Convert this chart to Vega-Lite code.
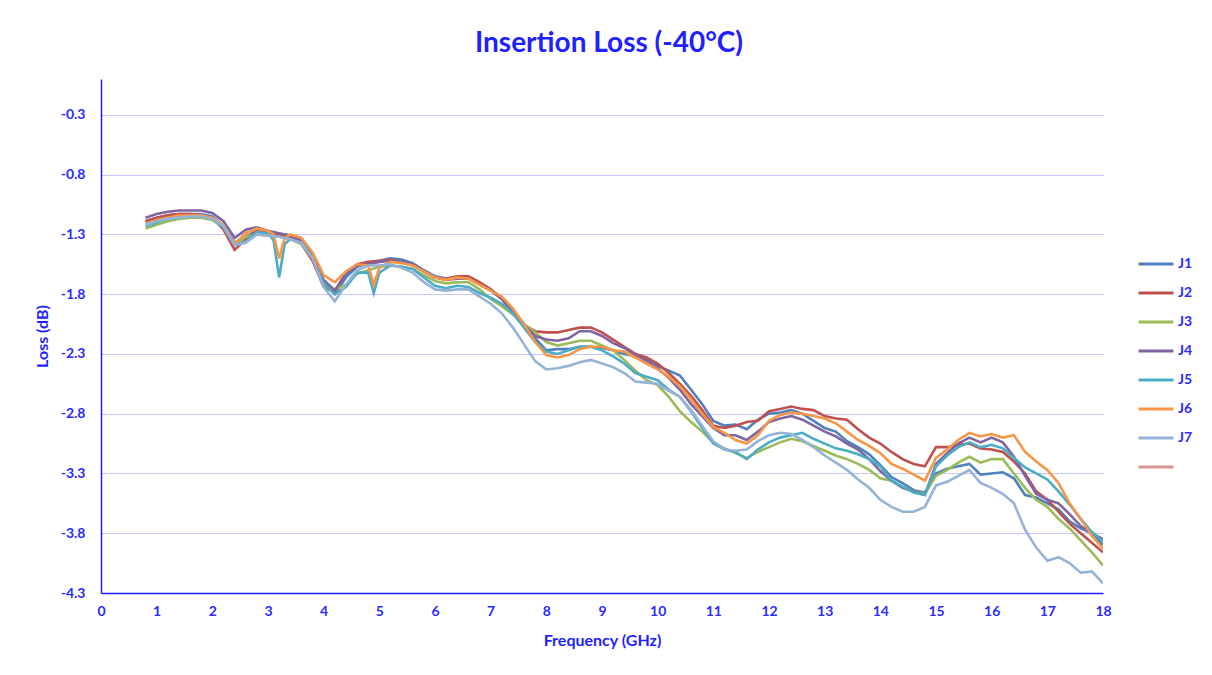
{
"$schema":"https://vega.github.io/schema/vega-lite/v6.json",
"width":1002,"height":514,
"autosize":"none",
"padding":{"left":101,"top":79,"right":109,"bottom":82},
"background":"white",
"title":{"text":"Insertion Loss (-40°C)","color":"#1f1fff","fontSize":28,"fontWeight":"bold","font":"Lato","anchor":"middle","offset":21,"dx":7},
"data":{"values":[
{"f":0.8,"s":"J1","v":-1.19},{"f":1.0,"s":"J1","v":-1.16},{"f":1.2,"s":"J1","v":-1.14},{"f":1.4,"s":"J1","v":-1.13},{"f":1.6,"s":"J1","v":-1.13},{"f":1.8,"s":"J1","v":-1.13},{"f":2.0,"s":"J1","v":-1.15},{"f":2.2,"s":"J1","v":-1.23},{"f":2.4,"s":"J1","v":-1.37},{"f":2.6,"s":"J1","v":-1.32},{"f":2.8,"s":"J1","v":-1.27},{"f":3.0,"s":"J1","v":-1.28},{"f":3.2,"s":"J1","v":-1.30},{"f":3.4,"s":"J1","v":-1.31},{"f":3.6,"s":"J1","v":-1.35},{"f":3.8,"s":"J1","v":-1.50},{"f":4.0,"s":"J1","v":-1.70},{"f":4.2,"s":"J1","v":-1.80},{"f":4.4,"s":"J1","v":-1.66},{"f":4.6,"s":"J1","v":-1.57},{"f":4.8,"s":"J1","v":-1.54},{"f":5.0,"s":"J1","v":-1.52},{"f":5.2,"s":"J1","v":-1.50},{"f":5.4,"s":"J1","v":-1.51},{"f":5.6,"s":"J1","v":-1.54},{"f":5.8,"s":"J1","v":-1.60},{"f":6.0,"s":"J1","v":-1.65},{"f":6.2,"s":"J1","v":-1.67},{"f":6.4,"s":"J1","v":-1.66},{"f":6.6,"s":"J1","v":-1.66},{"f":6.8,"s":"J1","v":-1.71},{"f":7.0,"s":"J1","v":-1.76},{"f":7.2,"s":"J1","v":-1.83},{"f":7.4,"s":"J1","v":-1.93},{"f":7.6,"s":"J1","v":-2.05},{"f":7.8,"s":"J1","v":-2.17},{"f":8.0,"s":"J1","v":-2.27},{"f":8.2,"s":"J1","v":-2.26},{"f":8.4,"s":"J1","v":-2.26},{"f":8.6,"s":"J1","v":-2.24},{"f":8.8,"s":"J1","v":-2.24},{"f":9.0,"s":"J1","v":-2.25},{"f":9.2,"s":"J1","v":-2.27},{"f":9.4,"s":"J1","v":-2.30},{"f":9.6,"s":"J1","v":-2.32},{"f":9.8,"s":"J1","v":-2.34},{"f":10.0,"s":"J1","v":-2.40},{"f":10.2,"s":"J1","v":-2.44},{"f":10.4,"s":"J1","v":-2.48},{"f":10.6,"s":"J1","v":-2.60},{"f":10.8,"s":"J1","v":-2.72},{"f":11.0,"s":"J1","v":-2.86},{"f":11.2,"s":"J1","v":-2.90},{"f":11.4,"s":"J1","v":-2.89},{"f":11.6,"s":"J1","v":-2.93},{"f":11.8,"s":"J1","v":-2.85},{"f":12.0,"s":"J1","v":-2.80},{"f":12.2,"s":"J1","v":-2.79},{"f":12.4,"s":"J1","v":-2.77},{"f":12.6,"s":"J1","v":-2.80},{"f":12.8,"s":"J1","v":-2.86},{"f":13.0,"s":"J1","v":-2.92},{"f":13.2,"s":"J1","v":-2.95},{"f":13.4,"s":"J1","v":-3.03},{"f":13.6,"s":"J1","v":-3.08},{"f":13.8,"s":"J1","v":-3.14},{"f":14.0,"s":"J1","v":-3.23},{"f":14.2,"s":"J1","v":-3.33},{"f":14.4,"s":"J1","v":-3.38},{"f":14.6,"s":"J1","v":-3.44},{"f":14.8,"s":"J1","v":-3.46},{"f":15.0,"s":"J1","v":-3.30},{"f":15.2,"s":"J1","v":-3.26},{"f":15.4,"s":"J1","v":-3.24},{"f":15.6,"s":"J1","v":-3.22},{"f":15.8,"s":"J1","v":-3.31},{"f":16.0,"s":"J1","v":-3.30},{"f":16.2,"s":"J1","v":-3.29},{"f":16.4,"s":"J1","v":-3.34},{"f":16.6,"s":"J1","v":-3.48},{"f":16.8,"s":"J1","v":-3.50},{"f":17.0,"s":"J1","v":-3.55},{"f":17.2,"s":"J1","v":-3.60},{"f":17.4,"s":"J1","v":-3.70},{"f":17.6,"s":"J1","v":-3.76},{"f":17.8,"s":"J1","v":-3.80},{"f":18.0,"s":"J1","v":-3.90},

{"f":0.8,"s":"J2","v":-1.19},{"f":1.0,"s":"J2","v":-1.16},{"f":1.2,"s":"J2","v":-1.14},{"f":1.4,"s":"J2","v":-1.13},{"f":1.6,"s":"J2","v":-1.13},{"f":1.8,"s":"J2","v":-1.14},{"f":2.0,"s":"J2","v":-1.16},{"f":2.2,"s":"J2","v":-1.26},{"f":2.4,"s":"J2","v":-1.43},{"f":2.6,"s":"J2","v":-1.34},{"f":2.8,"s":"J2","v":-1.27},{"f":3.0,"s":"J2","v":-1.29},{"f":3.2,"s":"J2","v":-1.31},{"f":3.4,"s":"J2","v":-1.32},{"f":3.6,"s":"J2","v":-1.38},{"f":3.8,"s":"J2","v":-1.52},{"f":4.0,"s":"J2","v":-1.74},{"f":4.2,"s":"J2","v":-1.78},{"f":4.4,"s":"J2","v":-1.62},{"f":4.6,"s":"J2","v":-1.55},{"f":4.8,"s":"J2","v":-1.53},{"f":5.0,"s":"J2","v":-1.52},{"f":5.2,"s":"J2","v":-1.51},{"f":5.4,"s":"J2","v":-1.53},{"f":5.6,"s":"J2","v":-1.56},{"f":5.8,"s":"J2","v":-1.61},{"f":6.0,"s":"J2","v":-1.66},{"f":6.2,"s":"J2","v":-1.67},{"f":6.4,"s":"J2","v":-1.65},{"f":6.6,"s":"J2","v":-1.65},{"f":6.8,"s":"J2","v":-1.70},{"f":7.0,"s":"J2","v":-1.76},{"f":7.2,"s":"J2","v":-1.84},{"f":7.4,"s":"J2","v":-1.96},{"f":7.6,"s":"J2","v":-2.06},{"f":7.8,"s":"J2","v":-2.11},{"f":8.0,"s":"J2","v":-2.12},{"f":8.2,"s":"J2","v":-2.12},{"f":8.4,"s":"J2","v":-2.10},{"f":8.6,"s":"J2","v":-2.08},{"f":8.8,"s":"J2","v":-2.08},{"f":9.0,"s":"J2","v":-2.12},{"f":9.2,"s":"J2","v":-2.18},{"f":9.4,"s":"J2","v":-2.24},{"f":9.6,"s":"J2","v":-2.30},{"f":9.8,"s":"J2","v":-2.33},{"f":10.0,"s":"J2","v":-2.38},{"f":10.2,"s":"J2","v":-2.46},{"f":10.4,"s":"J2","v":-2.55},{"f":10.6,"s":"J2","v":-2.65},{"f":10.8,"s":"J2","v":-2.77},{"f":11.0,"s":"J2","v":-2.90},{"f":11.2,"s":"J2","v":-2.92},{"f":11.4,"s":"J2","v":-2.90},{"f":11.6,"s":"J2","v":-2.87},{"f":11.8,"s":"J2","v":-2.86},{"f":12.0,"s":"J2","v":-2.78},{"f":12.2,"s":"J2","v":-2.76},{"f":12.4,"s":"J2","v":-2.74},{"f":12.6,"s":"J2","v":-2.76},{"f":12.8,"s":"J2","v":-2.77},{"f":13.0,"s":"J2","v":-2.82},{"f":13.2,"s":"J2","v":-2.84},{"f":13.4,"s":"J2","v":-2.85},{"f":13.6,"s":"J2","v":-2.93},{"f":13.8,"s":"J2","v":-3.00},{"f":14.0,"s":"J2","v":-3.05},{"f":14.2,"s":"J2","v":-3.12},{"f":14.4,"s":"J2","v":-3.18},{"f":14.6,"s":"J2","v":-3.22},{"f":14.8,"s":"J2","v":-3.24},{"f":15.0,"s":"J2","v":-3.08},{"f":15.2,"s":"J2","v":-3.08},{"f":15.4,"s":"J2","v":-3.06},{"f":15.6,"s":"J2","v":-3.05},{"f":15.8,"s":"J2","v":-3.09},{"f":16.0,"s":"J2","v":-3.10},{"f":16.2,"s":"J2","v":-3.12},{"f":16.4,"s":"J2","v":-3.20},{"f":16.6,"s":"J2","v":-3.30},{"f":16.8,"s":"J2","v":-3.45},{"f":17.0,"s":"J2","v":-3.52},{"f":17.2,"s":"J2","v":-3.62},{"f":17.4,"s":"J2","v":-3.72},{"f":17.6,"s":"J2","v":-3.80},{"f":17.8,"s":"J2","v":-3.88},{"f":18.0,"s":"J2","v":-3.96},

{"f":0.8,"s":"J3","v":-1.25},{"f":1.0,"s":"J3","v":-1.22},{"f":1.2,"s":"J3","v":-1.19},{"f":1.4,"s":"J3","v":-1.17},{"f":1.6,"s":"J3","v":-1.16},{"f":1.8,"s":"J3","v":-1.16},{"f":2.0,"s":"J3","v":-1.18},{"f":2.2,"s":"J3","v":-1.24},{"f":2.4,"s":"J3","v":-1.38},{"f":2.6,"s":"J3","v":-1.32},{"f":2.8,"s":"J3","v":-1.30},{"f":3.0,"s":"J3","v":-1.31},{"f":3.2,"s":"J3","v":-1.32},{"f":3.4,"s":"J3","v":-1.34},{"f":3.6,"s":"J3","v":-1.38},{"f":3.8,"s":"J3","v":-1.50},{"f":4.0,"s":"J3","v":-1.70},{"f":4.2,"s":"J3","v":-1.76},{"f":4.4,"s":"J3","v":-1.72},{"f":4.6,"s":"J3","v":-1.63},{"f":4.8,"s":"J3","v":-1.60},{"f":5.0,"s":"J3","v":-1.57},{"f":5.2,"s":"J3","v":-1.56},{"f":5.4,"s":"J3","v":-1.57},{"f":5.6,"s":"J3","v":-1.59},{"f":5.8,"s":"J3","v":-1.64},{"f":6.0,"s":"J3","v":-1.69},{"f":6.2,"s":"J3","v":-1.71},{"f":6.4,"s":"J3","v":-1.70},{"f":6.6,"s":"J3","v":-1.70},{"f":6.8,"s":"J3","v":-1.76},{"f":7.0,"s":"J3","v":-1.84},{"f":7.2,"s":"J3","v":-1.90},{"f":7.4,"s":"J3","v":-1.97},{"f":7.6,"s":"J3","v":-2.05},{"f":7.8,"s":"J3","v":-2.12},{"f":8.0,"s":"J3","v":-2.20},{"f":8.2,"s":"J3","v":-2.23},{"f":8.4,"s":"J3","v":-2.21},{"f":8.6,"s":"J3","v":-2.19},{"f":8.8,"s":"J3","v":-2.19},{"f":9.0,"s":"J3","v":-2.23},{"f":9.2,"s":"J3","v":-2.27},{"f":9.4,"s":"J3","v":-2.35},{"f":9.6,"s":"J3","v":-2.44},{"f":9.8,"s":"J3","v":-2.52},{"f":10.0,"s":"J3","v":-2.56},{"f":10.2,"s":"J3","v":-2.66},{"f":10.4,"s":"J3","v":-2.78},{"f":10.6,"s":"J3","v":-2.87},{"f":10.8,"s":"J3","v":-2.95},{"f":11.0,"s":"J3","v":-3.04},{"f":11.2,"s":"J3","v":-3.09},{"f":11.4,"s":"J3","v":-3.13},{"f":11.6,"s":"J3","v":-3.17},{"f":11.8,"s":"J3","v":-3.12},{"f":12.0,"s":"J3","v":-3.08},{"f":12.2,"s":"J3","v":-3.04},{"f":12.4,"s":"J3","v":-3.01},{"f":12.6,"s":"J3","v":-3.03},{"f":12.8,"s":"J3","v":-3.07},{"f":13.0,"s":"J3","v":-3.11},{"f":13.2,"s":"J3","v":-3.15},{"f":13.4,"s":"J3","v":-3.18},{"f":13.6,"s":"J3","v":-3.22},{"f":13.8,"s":"J3","v":-3.27},{"f":14.0,"s":"J3","v":-3.34},{"f":14.2,"s":"J3","v":-3.36},{"f":14.4,"s":"J3","v":-3.41},{"f":14.6,"s":"J3","v":-3.45},{"f":14.8,"s":"J3","v":-3.47},{"f":15.0,"s":"J3","v":-3.32},{"f":15.2,"s":"J3","v":-3.27},{"f":15.4,"s":"J3","v":-3.21},{"f":15.6,"s":"J3","v":-3.16},{"f":15.8,"s":"J3","v":-3.21},{"f":16.0,"s":"J3","v":-3.18},{"f":16.2,"s":"J3","v":-3.18},{"f":16.4,"s":"J3","v":-3.30},{"f":16.6,"s":"J3","v":-3.42},{"f":16.8,"s":"J3","v":-3.52},{"f":17.0,"s":"J3","v":-3.58},{"f":17.2,"s":"J3","v":-3.68},{"f":17.4,"s":"J3","v":-3.76},{"f":17.6,"s":"J3","v":-3.86},{"f":17.8,"s":"J3","v":-3.96},{"f":18.0,"s":"J3","v":-4.07},

{"f":0.8,"s":"J4","v":-1.16},{"f":1.0,"s":"J4","v":-1.13},{"f":1.2,"s":"J4","v":-1.11},{"f":1.4,"s":"J4","v":-1.10},{"f":1.6,"s":"J4","v":-1.10},{"f":1.8,"s":"J4","v":-1.10},{"f":2.0,"s":"J4","v":-1.12},{"f":2.2,"s":"J4","v":-1.19},{"f":2.4,"s":"J4","v":-1.33},{"f":2.6,"s":"J4","v":-1.26},{"f":2.8,"s":"J4","v":-1.24},{"f":3.0,"s":"J4","v":-1.27},{"f":3.2,"s":"J4","v":-1.29},{"f":3.4,"s":"J4","v":-1.31},{"f":3.6,"s":"J4","v":-1.36},{"f":3.8,"s":"J4","v":-1.48},{"f":4.0,"s":"J4","v":-1.68},{"f":4.2,"s":"J4","v":-1.77},{"f":4.4,"s":"J4","v":-1.63},{"f":4.6,"s":"J4","v":-1.56},{"f":4.8,"s":"J4","v":-1.55},{"f":5.0,"s":"J4","v":-1.53},{"f":5.2,"s":"J4","v":-1.52},{"f":5.4,"s":"J4","v":-1.53},{"f":5.6,"s":"J4","v":-1.55},{"f":5.8,"s":"J4","v":-1.61},{"f":6.0,"s":"J4","v":-1.66},{"f":6.2,"s":"J4","v":-1.68},{"f":6.4,"s":"J4","v":-1.67},{"f":6.6,"s":"J4","v":-1.67},{"f":6.8,"s":"J4","v":-1.72},{"f":7.0,"s":"J4","v":-1.77},{"f":7.2,"s":"J4","v":-1.84},{"f":7.4,"s":"J4","v":-1.94},{"f":7.6,"s":"J4","v":-2.06},{"f":7.8,"s":"J4","v":-2.15},{"f":8.0,"s":"J4","v":-2.18},{"f":8.2,"s":"J4","v":-2.19},{"f":8.4,"s":"J4","v":-2.17},{"f":8.6,"s":"J4","v":-2.11},{"f":8.8,"s":"J4","v":-2.11},{"f":9.0,"s":"J4","v":-2.15},{"f":9.2,"s":"J4","v":-2.21},{"f":9.4,"s":"J4","v":-2.25},{"f":9.6,"s":"J4","v":-2.31},{"f":9.8,"s":"J4","v":-2.36},{"f":10.0,"s":"J4","v":-2.42},{"f":10.2,"s":"J4","v":-2.50},{"f":10.4,"s":"J4","v":-2.60},{"f":10.6,"s":"J4","v":-2.72},{"f":10.8,"s":"J4","v":-2.82},{"f":11.0,"s":"J4","v":-2.92},{"f":11.2,"s":"J4","v":-2.98},{"f":11.4,"s":"J4","v":-2.98},{"f":11.6,"s":"J4","v":-3.02},{"f":11.8,"s":"J4","v":-2.95},{"f":12.0,"s":"J4","v":-2.87},{"f":12.2,"s":"J4","v":-2.84},{"f":12.4,"s":"J4","v":-2.82},{"f":12.6,"s":"J4","v":-2.85},{"f":12.8,"s":"J4","v":-2.90},{"f":13.0,"s":"J4","v":-2.95},{"f":13.2,"s":"J4","v":-2.99},{"f":13.4,"s":"J4","v":-3.05},{"f":13.6,"s":"J4","v":-3.10},{"f":13.8,"s":"J4","v":-3.18},{"f":14.0,"s":"J4","v":-3.28},{"f":14.2,"s":"J4","v":-3.36},{"f":14.4,"s":"J4","v":-3.42},{"f":14.6,"s":"J4","v":-3.45},{"f":14.8,"s":"J4","v":-3.48},{"f":15.0,"s":"J4","v":-3.22},{"f":15.2,"s":"J4","v":-3.13},{"f":15.4,"s":"J4","v":-3.05},{"f":15.6,"s":"J4","v":-3.00},{"f":15.8,"s":"J4","v":-3.04},{"f":16.0,"s":"J4","v":-3.00},{"f":16.2,"s":"J4","v":-3.04},{"f":16.4,"s":"J4","v":-3.16},{"f":16.6,"s":"J4","v":-3.32},{"f":16.8,"s":"J4","v":-3.47},{"f":17.0,"s":"J4","v":-3.52},{"f":17.2,"s":"J4","v":-3.55},{"f":17.4,"s":"J4","v":-3.64},{"f":17.6,"s":"J4","v":-3.74},{"f":17.8,"s":"J4","v":-3.80},{"f":18.0,"s":"J4","v":-3.85},

{"f":0.8,"s":"J5","v":-1.23},{"f":1.0,"s":"J5","v":-1.20},{"f":1.2,"s":"J5","v":-1.17},{"f":1.4,"s":"J5","v":-1.16},{"f":1.6,"s":"J5","v":-1.15},{"f":1.8,"s":"J5","v":-1.15},{"f":2.0,"s":"J5","v":-1.17},{"f":2.2,"s":"J5","v":-1.24},{"f":2.4,"s":"J5","v":-1.39},{"f":2.6,"s":"J5","v":-1.36},{"f":2.8,"s":"J5","v":-1.28},{"f":3.0,"s":"J5","v":-1.29},{"f":3.1,"s":"J5","v":-1.35},{"f":3.2,"s":"J5","v":-1.66},{"f":3.3,"s":"J5","v":-1.38},{"f":3.4,"s":"J5","v":-1.34},{"f":3.6,"s":"J5","v":-1.37},{"f":3.8,"s":"J5","v":-1.49},{"f":4.0,"s":"J5","v":-1.71},{"f":4.2,"s":"J5","v":-1.80},{"f":4.4,"s":"J5","v":-1.74},{"f":4.6,"s":"J5","v":-1.62},{"f":4.8,"s":"J5","v":-1.62},{"f":4.9,"s":"J5","v":-1.79},{"f":5.0,"s":"J5","v":-1.62},{"f":5.2,"s":"J5","v":-1.56},{"f":5.4,"s":"J5","v":-1.57},{"f":5.6,"s":"J5","v":-1.59},{"f":5.8,"s":"J5","v":-1.66},{"f":6.0,"s":"J5","v":-1.73},{"f":6.2,"s":"J5","v":-1.75},{"f":6.4,"s":"J5","v":-1.73},{"f":6.6,"s":"J5","v":-1.74},{"f":6.8,"s":"J5","v":-1.79},{"f":7.0,"s":"J5","v":-1.83},{"f":7.2,"s":"J5","v":-1.88},{"f":7.4,"s":"J5","v":-1.96},{"f":7.6,"s":"J5","v":-2.08},{"f":7.8,"s":"J5","v":-2.20},{"f":8.0,"s":"J5","v":-2.28},{"f":8.2,"s":"J5","v":-2.30},{"f":8.4,"s":"J5","v":-2.27},{"f":8.6,"s":"J5","v":-2.24},{"f":8.8,"s":"J5","v":-2.24},{"f":9.0,"s":"J5","v":-2.27},{"f":9.2,"s":"J5","v":-2.32},{"f":9.4,"s":"J5","v":-2.38},{"f":9.6,"s":"J5","v":-2.46},{"f":9.8,"s":"J5","v":-2.49},{"f":10.0,"s":"J5","v":-2.52},{"f":10.2,"s":"J5","v":-2.60},{"f":10.4,"s":"J5","v":-2.66},{"f":10.6,"s":"J5","v":-2.78},{"f":10.8,"s":"J5","v":-2.92},{"f":11.0,"s":"J5","v":-3.05},{"f":11.2,"s":"J5","v":-3.10},{"f":11.4,"s":"J5","v":-3.12},{"f":11.6,"s":"J5","v":-3.18},{"f":11.8,"s":"J5","v":-3.10},{"f":12.0,"s":"J5","v":-3.04},{"f":12.2,"s":"J5","v":-3.00},{"f":12.4,"s":"J5","v":-2.98},{"f":12.6,"s":"J5","v":-2.96},{"f":12.8,"s":"J5","v":-3.01},{"f":13.0,"s":"J5","v":-3.05},{"f":13.2,"s":"J5","v":-3.09},{"f":13.4,"s":"J5","v":-3.11},{"f":13.6,"s":"J5","v":-3.14},{"f":13.8,"s":"J5","v":-3.18},{"f":14.0,"s":"J5","v":-3.24},{"f":14.2,"s":"J5","v":-3.36},{"f":14.4,"s":"J5","v":-3.41},{"f":14.6,"s":"J5","v":-3.46},{"f":14.8,"s":"J5","v":-3.48},{"f":15.0,"s":"J5","v":-3.24},{"f":15.2,"s":"J5","v":-3.15},{"f":15.4,"s":"J5","v":-3.08},{"f":15.6,"s":"J5","v":-3.04},{"f":15.8,"s":"J5","v":-3.08},{"f":16.0,"s":"J5","v":-3.06},{"f":16.2,"s":"J5","v":-3.09},{"f":16.4,"s":"J5","v":-3.17},{"f":16.6,"s":"J5","v":-3.25},{"f":16.8,"s":"J5","v":-3.30},{"f":17.0,"s":"J5","v":-3.35},{"f":17.2,"s":"J5","v":-3.45},{"f":17.4,"s":"J5","v":-3.56},{"f":17.6,"s":"J5","v":-3.68},{"f":17.8,"s":"J5","v":-3.79},{"f":18.0,"s":"J5","v":-3.87},

{"f":0.8,"s":"J6","v":-1.21},{"f":1.0,"s":"J6","v":-1.18},{"f":1.2,"s":"J6","v":-1.16},{"f":1.4,"s":"J6","v":-1.14},{"f":1.6,"s":"J6","v":-1.14},{"f":1.8,"s":"J6","v":-1.14},{"f":2.0,"s":"J6","v":-1.16},{"f":2.2,"s":"J6","v":-1.22},{"f":2.4,"s":"J6","v":-1.38},{"f":2.6,"s":"J6","v":-1.29},{"f":2.8,"s":"J6","v":-1.25},{"f":3.0,"s":"J6","v":-1.27},{"f":3.1,"s":"J6","v":-1.30},{"f":3.2,"s":"J6","v":-1.50},{"f":3.3,"s":"J6","v":-1.33},{"f":3.4,"s":"J6","v":-1.30},{"f":3.6,"s":"J6","v":-1.33},{"f":3.8,"s":"J6","v":-1.45},{"f":4.0,"s":"J6","v":-1.64},{"f":4.2,"s":"J6","v":-1.70},{"f":4.4,"s":"J6","v":-1.61},{"f":4.6,"s":"J6","v":-1.55},{"f":4.8,"s":"J6","v":-1.56},{"f":4.9,"s":"J6","v":-1.72},{"f":5.0,"s":"J6","v":-1.58},{"f":5.2,"s":"J6","v":-1.53},{"f":5.4,"s":"J6","v":-1.54},{"f":5.6,"s":"J6","v":-1.56},{"f":5.8,"s":"J6","v":-1.61},{"f":6.0,"s":"J6","v":-1.66},{"f":6.2,"s":"J6","v":-1.68},{"f":6.4,"s":"J6","v":-1.66},{"f":6.6,"s":"J6","v":-1.67},{"f":6.8,"s":"J6","v":-1.72},{"f":7.0,"s":"J6","v":-1.77},{"f":7.2,"s":"J6","v":-1.82},{"f":7.4,"s":"J6","v":-1.92},{"f":7.6,"s":"J6","v":-2.05},{"f":7.8,"s":"J6","v":-2.20},{"f":8.0,"s":"J6","v":-2.31},{"f":8.2,"s":"J6","v":-2.33},{"f":8.4,"s":"J6","v":-2.31},{"f":8.6,"s":"J6","v":-2.26},{"f":8.8,"s":"J6","v":-2.24},{"f":9.0,"s":"J6","v":-2.24},{"f":9.2,"s":"J6","v":-2.27},{"f":9.4,"s":"J6","v":-2.28},{"f":9.6,"s":"J6","v":-2.33},{"f":9.8,"s":"J6","v":-2.38},{"f":10.0,"s":"J6","v":-2.43},{"f":10.2,"s":"J6","v":-2.49},{"f":10.4,"s":"J6","v":-2.57},{"f":10.6,"s":"J6","v":-2.68},{"f":10.8,"s":"J6","v":-2.80},{"f":11.0,"s":"J6","v":-2.91},{"f":11.2,"s":"J6","v":-2.96},{"f":11.4,"s":"J6","v":-3.02},{"f":11.6,"s":"J6","v":-3.05},{"f":11.8,"s":"J6","v":-2.98},{"f":12.0,"s":"J6","v":-2.86},{"f":12.2,"s":"J6","v":-2.81},{"f":12.4,"s":"J6","v":-2.79},{"f":12.6,"s":"J6","v":-2.80},{"f":12.8,"s":"J6","v":-2.82},{"f":13.0,"s":"J6","v":-2.84},{"f":13.2,"s":"J6","v":-2.88},{"f":13.4,"s":"J6","v":-2.95},{"f":13.6,"s":"J6","v":-3.02},{"f":13.8,"s":"J6","v":-3.07},{"f":14.0,"s":"J6","v":-3.13},{"f":14.2,"s":"J6","v":-3.22},{"f":14.4,"s":"J6","v":-3.26},{"f":14.6,"s":"J6","v":-3.31},{"f":14.8,"s":"J6","v":-3.36},{"f":15.0,"s":"J6","v":-3.17},{"f":15.2,"s":"J6","v":-3.10},{"f":15.4,"s":"J6","v":-3.02},{"f":15.6,"s":"J6","v":-2.96},{"f":15.8,"s":"J6","v":-2.99},{"f":16.0,"s":"J6","v":-2.97},{"f":16.2,"s":"J6","v":-3.00},{"f":16.4,"s":"J6","v":-2.98},{"f":16.6,"s":"J6","v":-3.12},{"f":16.8,"s":"J6","v":-3.20},{"f":17.0,"s":"J6","v":-3.27},{"f":17.2,"s":"J6","v":-3.38},{"f":17.4,"s":"J6","v":-3.55},{"f":17.6,"s":"J6","v":-3.68},{"f":17.8,"s":"J6","v":-3.82},{"f":18.0,"s":"J6","v":-3.93},

{"f":0.8,"s":"J7","v":-1.22},{"f":1.0,"s":"J7","v":-1.19},{"f":1.2,"s":"J7","v":-1.17},{"f":1.4,"s":"J7","v":-1.16},{"f":1.6,"s":"J7","v":-1.15},{"f":1.8,"s":"J7","v":-1.15},{"f":2.0,"s":"J7","v":-1.17},{"f":2.2,"s":"J7","v":-1.23},{"f":2.4,"s":"J7","v":-1.39},{"f":2.6,"s":"J7","v":-1.37},{"f":2.8,"s":"J7","v":-1.30},{"f":3.0,"s":"J7","v":-1.31},{"f":3.2,"s":"J7","v":-1.32},{"f":3.4,"s":"J7","v":-1.34},{"f":3.6,"s":"J7","v":-1.37},{"f":3.8,"s":"J7","v":-1.50},{"f":4.0,"s":"J7","v":-1.74},{"f":4.2,"s":"J7","v":-1.86},{"f":4.4,"s":"J7","v":-1.72},{"f":4.6,"s":"J7","v":-1.60},{"f":4.8,"s":"J7","v":-1.56},{"f":5.0,"s":"J7","v":-1.56},{"f":5.2,"s":"J7","v":-1.55},{"f":5.4,"s":"J7","v":-1.58},{"f":5.6,"s":"J7","v":-1.62},{"f":5.8,"s":"J7","v":-1.70},{"f":6.0,"s":"J7","v":-1.76},{"f":6.2,"s":"J7","v":-1.77},{"f":6.4,"s":"J7","v":-1.76},{"f":6.6,"s":"J7","v":-1.76},{"f":6.8,"s":"J7","v":-1.82},{"f":7.0,"s":"J7","v":-1.88},{"f":7.2,"s":"J7","v":-1.96},{"f":7.4,"s":"J7","v":-2.08},{"f":7.6,"s":"J7","v":-2.22},{"f":7.8,"s":"J7","v":-2.36},{"f":8.0,"s":"J7","v":-2.43},{"f":8.2,"s":"J7","v":-2.42},{"f":8.4,"s":"J7","v":-2.40},{"f":8.6,"s":"J7","v":-2.37},{"f":8.8,"s":"J7","v":-2.35},{"f":9.0,"s":"J7","v":-2.38},{"f":9.2,"s":"J7","v":-2.41},{"f":9.4,"s":"J7","v":-2.46},{"f":9.6,"s":"J7","v":-2.53},{"f":9.8,"s":"J7","v":-2.54},{"f":10.0,"s":"J7","v":-2.55},{"f":10.2,"s":"J7","v":-2.61},{"f":10.4,"s":"J7","v":-2.66},{"f":10.6,"s":"J7","v":-2.77},{"f":10.8,"s":"J7","v":-2.90},{"f":11.0,"s":"J7","v":-3.03},{"f":11.2,"s":"J7","v":-3.10},{"f":11.4,"s":"J7","v":-3.11},{"f":11.6,"s":"J7","v":-3.10},{"f":11.8,"s":"J7","v":-3.03},{"f":12.0,"s":"J7","v":-2.98},{"f":12.2,"s":"J7","v":-2.96},{"f":12.4,"s":"J7","v":-2.97},{"f":12.6,"s":"J7","v":-3.02},{"f":12.8,"s":"J7","v":-3.08},{"f":13.0,"s":"J7","v":-3.15},{"f":13.2,"s":"J7","v":-3.21},{"f":13.4,"s":"J7","v":-3.27},{"f":13.6,"s":"J7","v":-3.35},{"f":13.8,"s":"J7","v":-3.42},{"f":14.0,"s":"J7","v":-3.52},{"f":14.2,"s":"J7","v":-3.58},{"f":14.4,"s":"J7","v":-3.62},{"f":14.6,"s":"J7","v":-3.62},{"f":14.8,"s":"J7","v":-3.58},{"f":15.0,"s":"J7","v":-3.40},{"f":15.2,"s":"J7","v":-3.37},{"f":15.4,"s":"J7","v":-3.32},{"f":15.6,"s":"J7","v":-3.27},{"f":15.8,"s":"J7","v":-3.38},{"f":16.0,"s":"J7","v":-3.42},{"f":16.2,"s":"J7","v":-3.47},{"f":16.4,"s":"J7","v":-3.55},{"f":16.6,"s":"J7","v":-3.77},{"f":16.8,"s":"J7","v":-3.92},{"f":17.0,"s":"J7","v":-4.03},{"f":17.2,"s":"J7","v":-4.00},{"f":17.4,"s":"J7","v":-4.05},{"f":17.6,"s":"J7","v":-4.13},{"f":17.8,"s":"J7","v":-4.12},{"f":18.0,"s":"J7","v":-4.22}
]},
"mark":{"type":"line","strokeWidth":2.6,"clip":true},
"encoding":{
"x":{"field":"f","type":"quantitative","scale":{"domain":[0,18],"nice":false,"zero":false},
"axis":{"title":"Frequency (GHz)","values":[0,1,2,3,4,5,6,7,8,9,10,11,12,13,14,15,16,17,18],"grid":false,"labelPadding":11,"titlePadding":14,"labelFlush":false}},
"y":{"field":"v","type":"quantitative","scale":{"domain":[-4.3,0],"nice":false,"zero":false},
"axis":{"title":"Loss (dB)","values":[-0.3,-0.8,-1.3,-1.8,-2.3,-2.8,-3.3,-3.8,-4.3],"format":".1f","labelExpr":"replace(datum.label, '\u2212', '-')","grid":true,"labelPadding":16,"titlePadding":10}},
"color":{"field":"s","type":"nominal","scale":{"domain":["J1","J2","J3","J4","J5","J6","J7"," "],"range":["#4f81bd","#c0504d","#9bbb59","#8064a2","#4bacc6","#f79646","#95b3d7","#d99694"]},
"legend":{"title":null,"orient":"none","legendX":1036,"legendY":166}}
},
"config":{
"font":"Lato",
"view":{"stroke":null},
"axis":{"domainColor":"#1f1fff","domainWidth":1.5,"gridColor":"#c4c4ff","gridWidth":1.2,"ticks":false,"labelColor":"#2a2aff","labelFont":"Lato","labelFontSize":14,"labelFontWeight":"bold","titleColor":"#1f1fff","titleFont":"Lato","titleFontSize":16,"titleFontWeight":"bold"},
"legend":{"symbolType":"stroke","symbolSize":1225,"symbolStrokeWidth":3,"labelFont":"Lato","labelFontSize":14,"labelFontWeight":"bold","labelColor":"#2a2aff","labelOffset":3,"rowPadding":3}
}
}
